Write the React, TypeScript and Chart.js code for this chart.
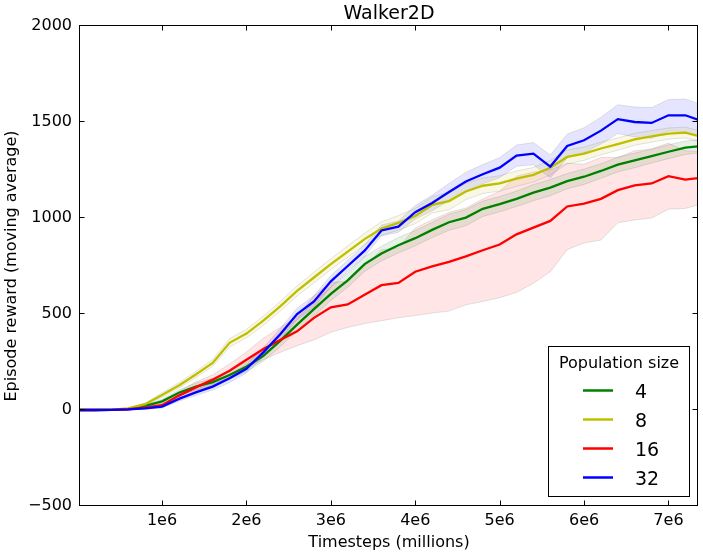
import { useEffect, useRef } from "react";
import { Chart, registerables } from "chart.js";

Chart.register(...registerables);

// Timesteps in millions
const TIMESTEPS_M = [0, 0.2, 0.4, 0.6, 0.8, 1.0, 1.2, 1.4, 1.6, 1.8, 2.0, 2.2, 2.4, 2.6, 2.8, 3.0, 3.2, 3.4, 3.6, 3.8, 4.0, 4.2, 4.4, 4.6, 4.8, 5.0, 5.2, 5.4, 5.6, 5.8, 6.0, 6.2, 6.4, 6.6, 6.8, 7.0, 7.2, 7.35];

const MEAN_4 = [0, 0, 1, 5, 22, 45, 90, 122, 145, 182, 225, 282, 360, 445, 525, 605, 675, 760, 815, 858, 895, 938, 978, 1002, 1048, 1072, 1100, 1132, 1158, 1192, 1215, 1245, 1278, 1300, 1322, 1345, 1366, 1373];
const STD_4 = [0, 0, 1, 3, 6, 10, 14, 18, 20, 22, 25, 28, 30, 32, 35, 35, 36, 38, 38, 40, 40, 40, 42, 42, 40, 40, 40, 42, 42, 40, 40, 38, 38, 38, 36, 36, 35, 35];

const MEAN_8 = [0, 0, 2, 8, 30, 78, 128, 185, 245, 350, 398, 465, 540, 620, 690, 760, 825, 890, 945, 975, 1010, 1068, 1088, 1138, 1168, 1180, 1205, 1225, 1262, 1318, 1335, 1362, 1385, 1410, 1425, 1440, 1445, 1428];
const STD_8 = [0, 0, 1, 3, 6, 12, 14, 16, 18, 22, 22, 24, 25, 26, 28, 28, 30, 30, 35, 38, 40, 42, 45, 42, 40, 40, 40, 38, 38, 36, 35, 33, 32, 31, 30, 29, 28, 28];

const MEAN_16 = [0, 0, 1, 4, 12, 25, 75, 118, 158, 205, 262, 318, 365, 410, 480, 535, 550, 600, 650, 662, 720, 748, 772, 800, 832, 862, 915, 950, 985, 1060, 1075, 1100, 1145, 1170, 1180, 1218, 1200, 1208];
const STD_16 = [0, 0, 1, 2, 6, 10, 20, 28, 25, 35, 40, 56, 65, 75, 115, 130, 120, 150, 185, 182, 228, 243, 257, 252, 267, 277, 303, 290, 265, 225, 205, 215, 170, 180, 180, 172, 150, 140];

const MEAN_32 = [0, 0, 1, 3, 8, 18, 58, 92, 122, 165, 215, 300, 395, 500, 565, 670, 750, 830, 935, 955, 1030, 1078, 1135, 1190, 1228, 1262, 1325, 1335, 1268, 1375, 1405, 1455, 1515, 1500, 1495, 1535, 1535, 1512];
const STD_32 = [0, 0, 1, 2, 4, 8, 12, 16, 18, 22, 22, 25, 28, 30, 30, 30, 30, 30, 28, 30, 35, 40, 45, 48, 50, 52, 55, 58, 60, 62, 65, 70, 75, 78, 80, 82, 85, 85];

const SERIES_NAMES = ["4", "8", "16", "32"];
const SERIES_COLORS = ["#008000", "#bfbf00", "#ff0000", "#0000ff"];
const BAND_COLORS = ["rgba(0,128,0,0.1)", "rgba(191,191,0,0.1)", "rgba(255,0,0,0.1)", "rgba(0,0,255,0.1)"];
const SERIES_MEANS = [MEAN_4, MEAN_8, MEAN_16, MEAN_32];
const SERIES_STDS = [STD_4, STD_8, STD_16, STD_32];

const X_TICKS_M = [1, 2, 3, 4, 5, 6, 7];
const Y_TICKS = [-500, 0, 500, 1000, 1500, 2000];
const X_MIN_M = 0.028;
const X_MAX_M = 7.35;

const TITLE = "Walker2D";
const X_LABEL = "Timesteps (millions)";
const Y_LABEL = "Episode reward (moving average)";
const LEGEND_TITLE = "Population size";

const FONT = "'DejaVu Sans', sans-serif";

const mplPlugin = {
  id: "mplDecor",
  afterDraw(chart: any) {
    const { ctx, chartArea: a, scales } = chart;
    const xs = scales.x;
    const ys = scales.y;
    ctx.save();
    // frame
    ctx.strokeStyle = "#000";
    ctx.lineWidth = 1;
    const L = Math.round(a.left) - 0.5;
    const R = Math.round(a.right) - 0.5;
    const T = Math.round(a.top) - 0.5;
    const B = Math.round(a.bottom) - 0.5;
    ctx.strokeRect(L, T, R - L, B - T);
    // inward ticks
    const tl = 5;
    ctx.beginPath();
    X_TICKS_M.forEach((v) => {
      const px = Math.round(xs.getPixelForValue(v * 1e6)) + 0.5;
      ctx.moveTo(px, B);
      ctx.lineTo(px, B - tl);
      ctx.moveTo(px, T);
      ctx.lineTo(px, T + tl);
    });
    Y_TICKS.forEach((v) => {
      const py = Math.round(ys.getPixelForValue(v)) - 0.5;
      ctx.moveTo(L, py);
      ctx.lineTo(L + tl, py);
      ctx.moveTo(R, py);
      ctx.lineTo(R - tl, py);
    });
    ctx.stroke();

    // title
    ctx.fillStyle = "#000";
    ctx.font = `19px ${FONT}`;
    ctx.textAlign = "center";
    ctx.textBaseline = "alphabetic";
    ctx.fillText(TITLE, (a.left + a.right) / 2, 18.5);

    // legend
    const bx = 548.5, by = 346.5, bw = 141, bh = 150;
    ctx.fillStyle = "#fff";
    ctx.fillRect(bx, by, bw, bh);
    ctx.strokeStyle = "#000";
    ctx.lineWidth = 1;
    ctx.strokeRect(bx, by, bw, bh);
    ctx.fillStyle = "#000";
    ctx.font = `16px ${FONT}`;
    ctx.textAlign = "center";
    ctx.fillText(LEGEND_TITLE, bx + bw / 2, 368);
    ctx.font = `19px ${FONT}`;
    ctx.textAlign = "left";
    SERIES_NAMES.forEach((name, i) => {
      const yy = 390.5 + i * 29;
      ctx.strokeStyle = SERIES_COLORS[i];
      ctx.lineWidth = 2.5;
      ctx.beginPath();
      ctx.moveTo(583, yy);
      ctx.lineTo(613, yy);
      ctx.stroke();
      ctx.fillStyle = "#000";
      ctx.fillText(name, 635, yy + 7);
    });
    ctx.restore();
  },
};

export default function App() {
  const canvasRef = useRef<HTMLCanvasElement | null>(null);

  useEffect(() => {
    const canvas = canvasRef.current;
    if (!canvas) return;
    Chart.defaults.font.family = FONT;
    Chart.defaults.color = "#000";

    const datasets: any[] = [];
    SERIES_NAMES.forEach((name, i) => {
      const mean = SERIES_MEANS[i];
      const std = SERIES_STDS[i];
      const upperIdx = datasets.length;
      datasets.push({
        label: `${name} upper`,
        data: TIMESTEPS_M.map((t, k) => ({ x: t * 1e6, y: mean[k] + std[k] })),
        borderColor: "rgba(0,0,0,0.1)",
        borderWidth: 1,
        pointRadius: 0,
        fill: false,
        tension: 0,
        order: 20 + i,
      });
      datasets.push({
        label: `${name} lower`,
        data: TIMESTEPS_M.map((t, k) => ({ x: t * 1e6, y: mean[k] - std[k] })),
        borderColor: "rgba(0,0,0,0.1)",
        borderWidth: 1,
        pointRadius: 0,
        backgroundColor: BAND_COLORS[i],
        fill: upperIdx,
        tension: 0,
        order: 20 + i,
      });
    });
    SERIES_NAMES.forEach((name, i) => {
      datasets.push({
        label: name,
        data: TIMESTEPS_M.map((t, k) => ({ x: t * 1e6, y: SERIES_MEANS[i][k] })),
        borderColor: SERIES_COLORS[i],
        borderWidth: 2.3,
        pointRadius: 0,
        fill: false,
        tension: 0,
        order: 3 - i,
      });
    });

    const chart = new Chart(canvas, {
      type: "line",
      data: { datasets },
      plugins: [mplPlugin],
      options: {
        animation: false,
        responsive: false,
        devicePixelRatio: 1,
        layout: { padding: { top: 26, right: 5, left: 0, bottom: 0 } },
        plugins: {
          legend: { display: false },
          title: { display: false },
          tooltip: { enabled: false },
        },
        scales: {
          x: {
            type: "linear",
            min: X_MIN_M * 1e6,
            max: X_MAX_M * 1e6,
            grid: { display: false, drawTicks: false },
            border: { display: false },
            afterBuildTicks: (scale: any) => {
              scale.ticks = X_TICKS_M.map((v) => ({ value: v * 1e6 }));
            },
            afterFit: (scale: any) => {
              scale.height = 46;
            },
            ticks: {
              font: { size: 16 },
              color: "#000",
              padding: 5,
              maxRotation: 0,
              autoSkip: false,
              callback: (value: any) => `${Math.round(Number(value) / 1e6)}e6`,
            },
            title: {
              display: true,
              text: X_LABEL,
              font: { size: 16 },
              color: "#000",
              padding: { top: 0, bottom: 0 },
            },
          },
          y: {
            type: "linear",
            min: Y_TICKS[0],
            max: Y_TICKS[Y_TICKS.length - 1],
            grid: { display: false, drawTicks: false },
            border: { display: false },
            afterBuildTicks: (scale: any) => {
              scale.ticks = Y_TICKS.map((v) => ({ value: v }));
            },
            afterFit: (scale: any) => {
              scale.width = 80;
            },
            ticks: {
              font: { size: 16 },
              color: "#000",
              padding: 8,
              autoSkip: false,
              callback: (value: any) => String(value).replace("-", "\u2212"),
            },
            title: {
              display: true,
              text: Y_LABEL,
              font: { size: 16 },
              color: "#000",
              padding: { top: 2, bottom: 0 },
            },
          },
        },
      },
    });
    return () => chart.destroy();
  }, []);

  return (
    <div style={{ position: "fixed", left: 0, top: 0, width: 703, height: 552, background: "#fff" }}>
      <canvas ref={canvasRef} width={703} height={552} style={{ display: "block" }} />
    </div>
  );
}
